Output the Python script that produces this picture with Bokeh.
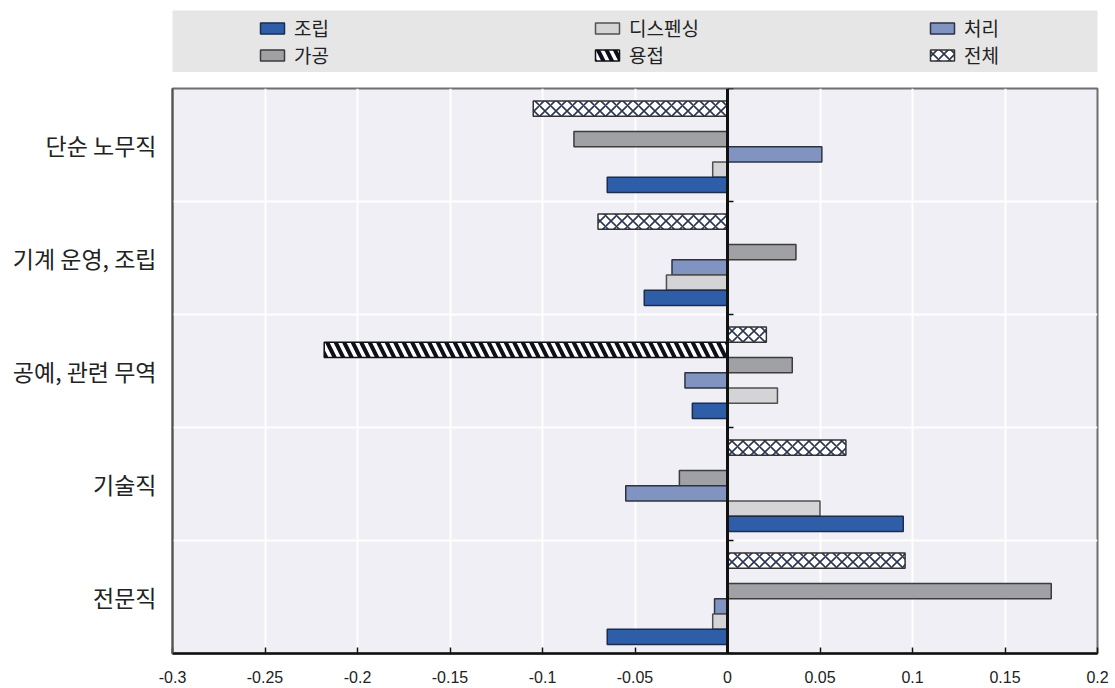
from bokeh.plotting import figure
from bokeh.models import (ColumnDataSource, Legend, LegendItem, LinearAxis, FixedTicker,
                          Range1d, CustomJSTickFormatter)
from bokeh.layouts import column
from bokeh.embed import file_html
from bokeh.resources import INLINE

nan = float("nan")

# ---- data ----
categories = ["단순 노무직", "기계 운영, 조립", "공예, 관련 무역", "기술직", "전문직"]
series_names = ["전체", "용접", "가공", "처리", "디스펜싱", "조립"]   # top -> bottom in each group
val_total = [-0.105, -0.070, 0.021, 0.064, 0.096]       # 전체
val_weld = [nan, nan, -0.218, nan, nan]                  # 용접
val_process = [-0.083, 0.037, 0.035, -0.026, 0.175]      # 가공
val_treat = [0.051, -0.030, -0.023, -0.055, -0.007]      # 처리
val_dispense = [-0.008, -0.033, 0.027, 0.050, -0.008]    # 디스펜싱
val_assembly = [-0.065, -0.045, -0.019, 0.095, -0.065]   # 조립
x_ticks = [-0.3, -0.25, -0.2, -0.15, -0.1, -0.05, 0, 0.05, 0.1, 0.15, 0.2]

series_values = [val_total, val_weld, val_process, val_treat, val_dispense, val_assembly]

styles = {
    "조립": dict(fill_color="#2f5ea8", line_color="#1c2c4c"),
    "가공": dict(fill_color="#a0a1a5", line_color="#3c3c3c"),
    "디스펜싱": dict(fill_color="#d4d4d6", line_color="#505050"),
    "처리": dict(fill_color="#8093c1", line_color="#2e3340"),
    "용접": dict(fill_color="white", line_color="#111111", hatch_pattern="\\",
               hatch_color="#0d0f1c", hatch_weight=4, hatch_scale=17),
    "전체": dict(fill_color="white", line_color="#333333", hatch_pattern="x",
               hatch_color="#2b3552", hatch_weight=1.6, hatch_scale=11),
}

n_cat = len(categories)
slot = 0.135
pad = 0.11

FONT_KR = "Noto Sans CJK KR"

# ---- main figure ----
p = figure(width=1112, height=616, x_range=Range1d(-0.3, 0.2), y_range=Range1d(0, n_cat),
           output_backend="svg", toolbar_location=None,
           min_border_left=172, min_border_right=15, min_border_top=16, min_border_bottom=35,
           background_fill_color="#efeff5", border_fill_color="white",
           outline_line_color="#6e6e6e", outline_line_width=2)

sources = {}
for j, (name, vals) in enumerate(zip(series_names, series_values)):
    ys = [n_cat - i - pad - (j + 0.5) * slot for i in range(n_cat)]
    src = ColumnDataSource(dict(y=ys, right=vals))
    sources[name] = src
    p.hbar(y="y", left=0, right="right", height=slot, source=src,
           line_width=1.5, **styles[name])

# grids
p.xgrid.ticker = FixedTicker(ticks=x_ticks[1:-1])
p.xgrid.grid_line_color = "white"
p.xgrid.grid_line_width = 2
p.ygrid.ticker = FixedTicker(ticks=list(range(1, n_cat)))
p.ygrid.grid_line_color = "white"
p.ygrid.grid_line_width = 2

# x axis
xa = p.xaxis[0]
xa.ticker = FixedTicker(ticks=x_ticks)
xa.formatter = CustomJSTickFormatter(
    code="var s = tick.toFixed(2); s = s.replace(/0+$/, '').replace(/\\.$/, ''); if (s == '-0') s = '0'; return s;")
xa.axis_line_color = "#111111"
xa.axis_line_width = 2.5
xa.major_tick_in = 6
xa.major_tick_out = 0
xa.major_tick_line_color = "#111111"
xa.major_tick_line_width = 1.5
xa.minor_tick_line_color = None
xa.major_label_text_font = "Liberation Sans"
xa.major_label_text_font_size = "16px"
xa.major_label_text_color = "#222222"
xa.major_label_standoff = 17

# y axis (category labels)
ya = p.yaxis[0]
centers = [n_cat - i - 0.5 for i in range(n_cat)]
ya.ticker = FixedTicker(ticks=centers)
ya.major_label_overrides = {c: lab for c, lab in zip(centers, categories)}
ya.major_tick_line_color = None
ya.minor_tick_line_color = None
ya.axis_line_color = "#555555"
ya.axis_line_width = 2
ya.major_label_text_font = FONT_KR
ya.major_label_text_font_size = "23px"
ya.major_label_text_color = "#222222"
ya.major_label_standoff = 10

# zero line with small group ticks
zaxis = LinearAxis(fixed_location=0, ticker=FixedTicker(ticks=list(range(0, n_cat + 1))),
                   formatter=CustomJSTickFormatter(code="return '';"),
                   axis_line_color="#111111", axis_line_width=3,
                   major_tick_in=6, major_tick_out=0, major_tick_line_color="#111111",
                   major_tick_line_width=1.5, minor_tick_line_color=None,
                   major_label_text_font_size="1px")
p.add_layout(zaxis, "left")

# ---- legend strip ----
top = figure(width=1112, height=72, x_range=Range1d(0, 1), y_range=Range1d(0, 1),
             output_backend="svg", toolbar_location=None,
             min_border_left=172, min_border_right=15, min_border_top=10, min_border_bottom=0,
             background_fill_color="#e6e6e6", border_fill_color="white",
             outline_line_color=None, x_axis_type=None, y_axis_type=None)
top.xgrid.visible = False
top.ygrid.visible = False

legend_order = ["조립", "디스펜싱", "처리", "가공", "용접", "전체"]
items = []
for name in legend_order:
    proxy = top.hbar(y="y", left=0, right="right", height=slot, source=sources[name],
                     line_width=1.5, visible=False, **styles[name])
    items.append(LegendItem(label=name, renderers=[proxy]))

legend = Legend(items=items, orientation="horizontal", ncols=3,
                location=(85, 4), margin=0, padding=0,
                glyph_width=30, glyph_height=14, label_standoff=7,
                label_width=298, spacing=-3,
                label_text_font=FONT_KR, label_text_font_size="19px",
                label_text_color="#222222",
                inactive_fill_alpha=0,
                background_fill_alpha=0, border_line_color=None)
top.add_layout(legend)

layout = column(top, p, spacing=0)

open("out.html", "w").write(file_html(layout, INLINE))
